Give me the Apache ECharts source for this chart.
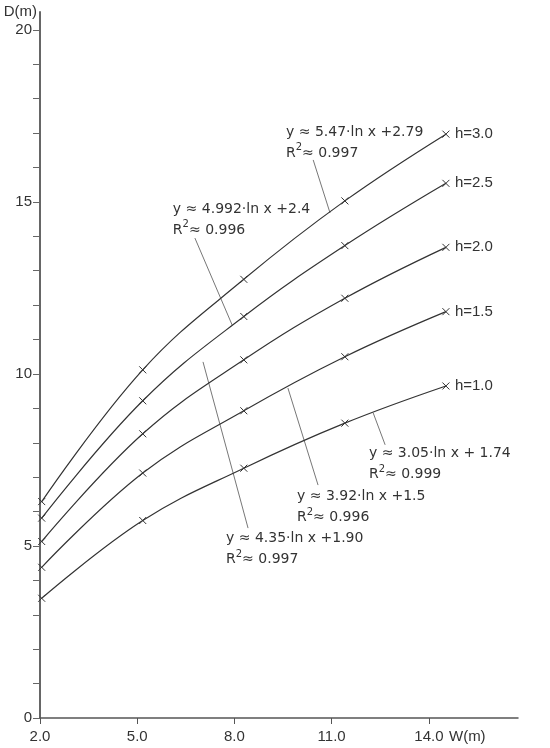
<!DOCTYPE html>
<html>
<head>
<meta charset="utf-8">
<script src="https://cdn.jsdelivr.net/npm/echarts@6/dist/echarts.min.js"></script>
<style>
html, body { margin: 0; padding: 0; background: #fff; }
#main { width: 550px; height: 748px; }
</style>
</head>
<body>
<div id="main"></div>
<script>
// data
var widths = [2, 5, 8, 11, 14];
var curveNames = ['h=3.0', 'h=2.5', 'h=2.0', 'h=1.5', 'h=1.0'];
var depthH30 = [6.29, 10.12, 12.75, 15.03, 16.97];
var depthH25 = [5.81, 9.22, 11.67, 13.73, 15.54];
var depthH20 = [5.13, 8.26, 10.41, 12.20, 13.68];
var depthH15 = [4.38, 7.12, 8.93, 10.50, 11.81];
var depthH10 = [3.48, 5.74, 7.26, 8.57, 9.65];
var xTickValues = [2, 5, 8, 11, 14];
var yLabelValues = [0, 5, 10, 15, 20];
var yTickValues = [0, 1, 2, 3, 4, 5, 6, 7, 8, 9, 10, 11, 12, 13, 14, 15, 16, 17, 18, 19, 20];

// fitted equations (text + where they sit, in axis units)
var fitTexts = [
  'y ≈ 5.47·ln x +2.79\nR{sup|2}≈ 0.997',
  'y ≈ 4.992·ln x +2.4\nR{sup|2}≈ 0.996',
  'y ≈ 4.35·ln x +1.90\nR{sup|2}≈ 0.997',
  'y ≈ 3.92·ln x +1.5\nR{sup|2}≈ 0.996',
  'y ≈ 3.05·ln x + 1.74\nR{sup|2}≈ 0.999'
];
var fitTextAt = [[9.59, 17.33], [6.10, 15.09], [7.74, 5.52], [9.93, 6.74], [12.15, 7.99]];
var leaderFrom = [[10.43, 16.22], [6.78, 13.95], [8.42, 5.52], [10.58, 6.77], [12.65, 7.94]];
var leaderTo = [[10.95, 14.68], [7.93, 11.42], [7.03, 10.35], [9.65, 9.59], [12.28, 8.87]];

var depths = [depthH30, depthH25, depthH20, depthH15, depthH10];
var txt = '#333';

var chart = echarts.init(document.getElementById('main'));

var series = depths.map(function (d, i) {
  return {
    name: curveNames[i],
    type: 'line',
    xAxisIndex: 1,
    smooth: 0.4,
    data: widths.map(function (w, j) { return [w, d[j]]; }),
    symbol: 'path://M0,0L10,10M10,0L0,10',
    symbolSize: 7,
    itemStyle: { color: '#333', borderColor: '#333', borderWidth: 1 },
    lineStyle: { color: '#333', width: 1.2 },
    label: {
      show: true,
      position: 'right',
      distance: 5,
      color: txt,
      fontFamily: 'Liberation Sans',
      fontSize: 15,
      formatter: function (p) { return p.dataIndex === widths.length - 1 ? p.seriesName : ''; }
    },
    emphasis: { disabled: true }
  };
});

chart.setOption({
  animation: false,
  backgroundColor: '#fff',
  grid: { left: 40, right: 32, top: 12, bottom: 30 },
  xAxis: [
    {
      type: 'value',
      min: 2,
      max: 16.75,
      axisLine: { lineStyle: { color: '#555', width: 1.5 } },
      axisTick: { customValues: xTickValues, length: 6, lineStyle: { color: '#555' } },
      axisLabel: {
        customValues: xTickValues,
        margin: 11,
        color: txt,
        fontFamily: 'Liberation Sans',
        fontSize: 15,
        formatter: function (v) { return v.toFixed(1); }
      },
      splitLine: { show: false }
    },
    { type: 'value', min: 1.95, max: 16.14, show: false }
  ],
  yAxis: {
    type: 'value',
    min: 0,
    max: 20.52,
    name: 'D(m)',
    nameLocation: 'end',
    nameGap: 0,
    nameTextStyle: {
      color: txt, fontFamily: 'Liberation Sans', fontSize: 15,
      align: 'right', verticalAlign: 'middle', padding: [0, 3, 0, 0]
    },
    axisLine: { show: true, lineStyle: { color: '#666', width: 2 } },
    axisTick: { customValues: yTickValues, length: 7, lineStyle: { color: '#666' } },
    axisLabel: {
      customValues: yLabelValues,
      margin: 8,
      color: txt,
      fontFamily: 'Liberation Sans',
      fontSize: 15
    },
    splitLine: { show: false }
  },
  series: series
});

// annotations placed through the axes
function px(p) { return chart.convertToPixel({ xAxisIndex: 0, yAxisIndex: 0 }, p); }
var graphics = [];
fitTexts.forEach(function (t, i) {
  var a = px(leaderFrom[i]), b = px(leaderTo[i]), c = px(fitTextAt[i]);
  graphics.push({
    type: 'line',
    shape: { x1: a[0], y1: a[1], x2: b[0], y2: b[1] },
    style: { stroke: '#777', lineWidth: 1 },
    silent: true
  });
  graphics.push({
    type: 'text',
    x: c[0],
    y: c[1],
    style: {
      text: t,
      fill: txt,
      fontFamily: 'DejaVu Sans',
      fontSize: 14,
      lineHeight: 21,
      align: 'left',
      verticalAlign: 'top',
      rich: { sup: { fontSize: 10, lineHeight: 12, verticalAlign: 'top', fill: txt, fontFamily: 'DejaVu Sans' } }
    },
    silent: true
  });
});
var wPos = px([14.62, 0]);
graphics.push({
  type: 'text',
  x: wPos[0],
  y: wPos[1] + 19,
  style: { text: 'W(m)', fill: txt, fontFamily: 'Liberation Sans', fontSize: 15, align: 'left', verticalAlign: 'middle' },
  silent: true
});
chart.setOption({ graphic: graphics });
</script>
</body>
</html>
